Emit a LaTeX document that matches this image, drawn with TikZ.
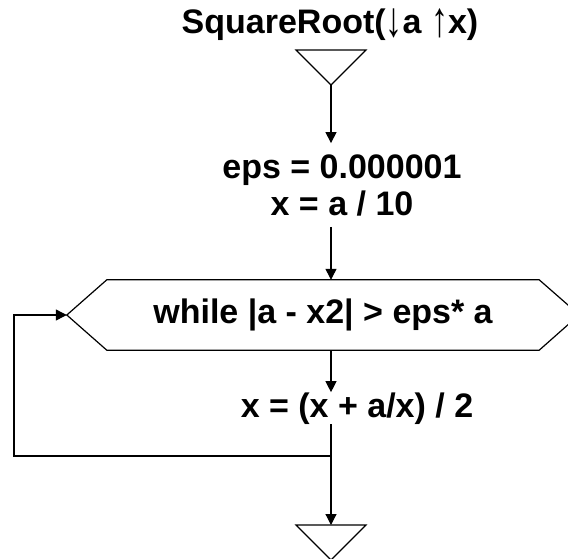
\documentclass[tikz,border=0pt]{standalone}
\usepackage{fontspec}
\usepackage{graphicx}
\setmainfont{Liberation Sans}
\usetikzlibrary{arrows.meta, positioning, calc}

\newcommand{\tallarrow}[1]{\raisebox{-3pt}{\scalebox{1}[1.45]{#1}}}

\tikzset{
  flowtext/.style={font=\fontsize{34}{37}\selectfont\bfseries, inner sep=0pt, align=center},
  flowline/.style={line width=1.2pt},
  flowarrow/.style={flowline, -{Triangle[length=11pt, width=11pt]}},
}

\begin{document}
\begin{tikzpicture}[x=1pt, y=-1pt]
  \useasboundingbox (0,0) rectangle (568,558);
  \coordinate (main) at (331,0);
  \coordinate (back) at (14,0);
  % header and entry
  \node[flowtext, anchor=base] (title) at (330,33) {SquareRoot(\tallarrow{↓}a \tallarrow{↑}x)};
  \coordinate (start) at (331,85);
  \draw[flowline] (start) -- ++(-35,-35) -- ++(70,0) -- cycle;
  % init
  \node[flowtext, inner ysep=11pt] (init) at (342,185) {eps = 0.000001\\x = a / 10};
  \draw[flowarrow] (start) -- (init.north -| main);
  % loop head
  \node[flowtext, minimum width=432pt, minimum height=70pt] (loop) at (323,315) {while |a - x2| > eps* a};
  \draw[flowline] ($(loop.west)+(-40,0)$) -- (loop.north west) -- (loop.north east)
    -- ++(40,35) -- (loop.south east) -- (loop.south west) -- cycle;
  \coordinate (loopin) at ($(loop.west)+(-40,0)$);
  \draw[flowarrow] (init.south -| main) -- (loop.north -| main);
  % body
  \node[flowtext, anchor=base] (body) at (357,417) {x = (x + a/x) / 2};
  \draw[flowarrow] (loop.south -| main) -- (body.north -| main);
  \coordinate (join) at (331,456);
  \draw[flowline] (body.south -| main) -- (join);
  \draw[flowarrow] (join) -- (join -| back) |- (loopin);
  % exit
  \coordinate (stop) at (331,525);
  \draw[flowarrow] (join) -- (stop);
  \draw[flowline] (stop) ++(-35,0) -- ++(70,0) -- ++(-35,35) -- cycle;
\end{tikzpicture}
\end{document}
